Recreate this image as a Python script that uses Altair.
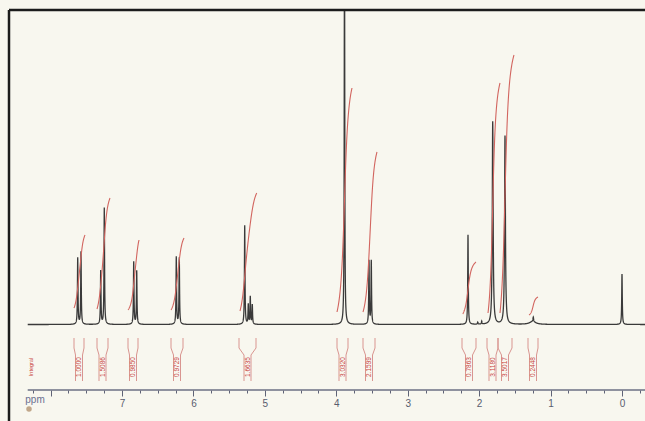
import numpy as np
import pandas as pd
import altair as alt

# ---------------- values ----------------
# spectrum peaks: chemical shift (ppm), height above baseline (arb. units), half width (ppm)
peak_ppm = [7.620, 7.574, 7.298, 7.248, 6.836, 6.794, 6.240, 6.198,
            5.282, 5.232, 5.204, 5.176, 3.885, 3.542, 3.510,
            2.156, 2.020, 1.964, 1.810, 1.638, 1.242, 1.250, 0.000]
peak_height = [66.5, 72.5, 53.5, 116.5, 62.5, 53.5, 67.5, 66.5,
               99.0, 19.5, 27.5, 19.5, 420.0, 63.5, 63.5,
               89.5, 2.0, 3.0, 203.0, 188.5, 4.5, 3.0, 50.5]
peak_hwhm = [0.0045, 0.0045, 0.0045, 0.0045, 0.0045, 0.0045, 0.0045, 0.0045,
             0.0045, 0.0045, 0.0045, 0.0045, 0.0040, 0.0045, 0.0045,
             0.0045, 0.0040, 0.0040, 0.0070, 0.0070, 0.0050, 0.0500, 0.0045]

# integral traces (start / end shift and start / end height)
int_start_ppm = [7.672, 7.350, 6.916, 6.314, 5.348, 3.990, 3.626, 2.230, 1.876, 1.708, 1.302]
int_end_ppm = [7.518, 7.168, 6.762, 6.132, 5.114, 3.780, 3.430, 2.044, 1.708, 1.512, 1.176]
int_start_y = [16.5, 15.5, 14.5, 14.5, 13.5, 12.5, 12.5, 10.5, 11.5, 11.5, 9.5]
int_end_y = [89.5, 126.5, 84.5, 86.5, 131.5, 236.5, 172.5, 62.5, 241.5, 269.5, 27.5]

# integral brackets and their values
bracket_left = [7.672, 7.350, 6.916, 6.314, 5.362, 3.990, 3.626, 2.240, 1.890, 1.736, 1.316]
bracket_right = [7.532, 7.196, 6.776, 6.146, 5.124, 3.836, 3.458, 2.044, 1.736, 1.540, 1.176]
int_values = ["1.0000", "1.5086", "0.9850", "0.9729", "1.6635", "3.0320",
              "2.1599", "0.7863", "3.1180", "3.5017", "0.2448"]

tick_values = [8.25, 8.0, 7.75, 7.5, 7.25, 7.0, 6.75, 6.5, 6.25, 6.0, 5.75, 5.5, 5.25,
               5.0, 4.75, 4.5, 4.25, 4.0, 3.75, 3.5, 3.25, 3.0, 2.75, 2.5, 2.25, 2.0,
               1.75, 1.5, 1.25, 1.0, 0.75, 0.5, 0.25, 0.0, -0.25]

axis_start_ppm = 8.32
axis_end_ppm = -0.322
x_domain = [-0.322, 8.582]
y_domain = [-65.5, 314.5]

# ---------------- build tables ----------------
grid = np.round(np.arange(axis_end_ppm, axis_start_ppm + 1e-9, 0.001), 4)
grid = np.unique(np.concatenate([grid, np.array(peak_ppm)]))
signal = np.zeros_like(grid)
for p, h, w in zip(peak_ppm, peak_height, peak_hwhm):
    signal += h / (1.0 + ((grid - p) / w) ** 2)
spec = pd.DataFrame({"ppm": grid, "y": np.round(signal, 3)})

rows = []
for k, (s, e, y0, y1) in enumerate(zip(int_start_ppm, int_end_ppm, int_start_y, int_end_y)):
    W = 0.2 * (s - e)
    xs = np.linspace(s, e, 60)
    cum = np.zeros_like(xs)
    for p, h in zip(peak_ppm, peak_height):
        if e <= p <= s:
            cum += h * (np.arctan((s - p) / W) - np.arctan((xs - p) / W))
    cum = cum / cum[-1]
    for i, (xv, cv) in enumerate(zip(xs, cum)):
        rows.append({"id": k, "i": i, "ppm": xv, "y": y0 + (y1 - y0) * cv})
integ = pd.DataFrame(rows)

# bracket geometry levels (annotation band below the baseline)
lv_top, lv_bend, lv_col, lv_bot, lv_text = -13.5, -23.5, -30.5, -56.5, -42.5
half_col = 0.049
brows = []
for k, (a, b) in enumerate(zip(bracket_left, bracket_right)):
    c = (a + b) / 2
    for side, edge, inner in (("L", a, c + half_col), ("R", b, c - half_col)):
        pts = [(edge, lv_top), (edge, lv_bend), (inner, lv_col), (inner, lv_bot)]
        for i, (xv, yv) in enumerate(pts):
            brows.append({"seg": f"{k}{side}", "i": i, "ppm": xv, "y": yv})
brackets = pd.DataFrame(brows)
labels = pd.DataFrame({"ppm": [(a + b) / 2 for a, b in zip(bracket_left, bracket_right)],
                       "y": [lv_text] * len(int_values), "txt": int_values})
axis_line = pd.DataFrame({"x0": [axis_start_ppm], "x1": [axis_end_ppm], "y": [y_domain[0]]})
one = pd.DataFrame({"a": [0]})

# ---------------- chart ----------------
xs_ = alt.Scale(domain=x_domain, reverse=True, nice=False, zero=False)
ys_ = alt.Scale(domain=y_domain, nice=False, zero=False)
xaxis = alt.Axis(
    values=tick_values, title=None, grid=False, domain=False,
    tickSize={"condition": {"test": "datum.value % 1 === 0", "value": 6}, "value": 3},
    tickColor="#5f6376", tickWidth=1,
    labelExpr="datum.value % 1 === 0 && datum.value < 8 ? format(datum.value, 'd') : ''",
    labelFont="Liberation Sans", labelFontSize=10, labelColor="#585d6e",
    labelPadding=2, labelFlush=False, labelOverlap=False,
)

spectrum = alt.Chart(spec).mark_line(color="#3a3a3a", strokeWidth=1.3, clip=True).encode(
    x=alt.X("ppm:Q", scale=xs_, axis=xaxis),
    y=alt.Y("y:Q", scale=ys_, axis=None),
)
integrals = alt.Chart(integ).mark_line(color="#d2655f", strokeWidth=1.1, clip=True).encode(
    x=alt.X("ppm:Q", scale=xs_, axis=xaxis),
    y=alt.Y("y:Q", scale=ys_, axis=None),
    detail="id:N", order="i:Q",
)
bracket_layer = alt.Chart(brackets).mark_line(color="#d99590", strokeWidth=1).encode(
    x=alt.X("ppm:Q", scale=xs_, axis=xaxis),
    y=alt.Y("y:Q", scale=ys_, axis=None),
    detail="seg:N", order="i:Q",
)
label_layer = alt.Chart(labels).mark_text(
    angle=270, font="Liberation Sans", fontSize=6.5, color="#c8443f",
    align="center", baseline="middle").encode(
    x=alt.X("ppm:Q", scale=xs_, axis=xaxis),
    y=alt.Y("y:Q", scale=ys_, axis=None),
    text="txt:N",
)
axis_rule = alt.Chart(axis_line).mark_rule(color="#6c7184", strokeWidth=1.3).encode(
    x=alt.X("x0:Q", scale=xs_, axis=xaxis), x2="x1:Q",
    y=alt.Y("y:Q", scale=ys_, axis=None),
)
ppm_text = alt.Chart(one).mark_text(
    text="ppm", font="Liberation Sans", fontSize=10, color="#6a7090",
    align="center", baseline="middle").encode(x=alt.value(26), y=alt.value(390))
integral_text = alt.Chart(one).mark_text(
    text="Integral", font="Liberation Sans", fontSize=5.5, color="#c8443f", angle=270,
    align="center", baseline="middle").encode(x=alt.value(22), y=alt.value(357))
frame_left = alt.Chart(one).mark_rule(color="#1c1c1c", strokeWidth=2.5).encode(
    x=alt.value(0), y=alt.value(0), y2=alt.value(411))
frame_top = alt.Chart(one).mark_rule(color="#1c1c1c", strokeWidth=2.5).encode(
    x=alt.value(0), x2=alt.value(636), y=alt.value(0))
stain = alt.Chart(one).mark_point(filled=True, color="#a98460", size=30, opacity=0.7).encode(
    x=alt.value(20), y=alt.value(399))

chart = alt.layer(
    spectrum, integrals, bracket_layer, label_layer, axis_rule,
    ppm_text, integral_text, stain, frame_left, frame_top,
).properties(
    width=636, height=380,
    padding={"left": 9, "top": 10, "right": 0, "bottom": 31},
    autosize=alt.AutoSizeParams(type="none"),
    background="#f8f7ef",
).configure_view(stroke=None)

chart.save("out.html", embed_options={"renderer": "svg", "actions": False})
